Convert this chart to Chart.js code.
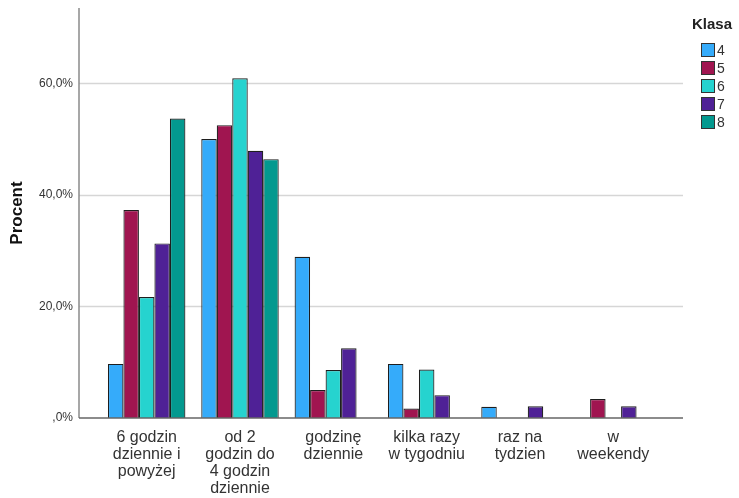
<!DOCTYPE html>
<html>
<head>
<meta charset="utf-8">
<script src="https://cdn.jsdelivr.net/npm/chart.js@4/dist/chart.umd.min.js"></script>
<style>
  body { margin: 0; background: #fff; font-family: "Liberation Sans", Arial, sans-serif; }
  #wrap { position: relative; width: 739px; height: 498px; }
  #legend { position: absolute; left: 692px; top: 15px; color: #222; }
  #legend .title { font-weight: bold; font-size: 15px; margin-bottom: 9px; }
  #legend .item { display: flex; align-items: center; height: 18px; font-size: 14px; color: #333; padding-left: 9px; }
  #legend .box { width: 14px; height: 14px; border: 1px solid #333; box-sizing: border-box; margin-right: 2px; }
</style>
</head>
<body>
<div id="wrap">
  <canvas id="chart" width="739" height="498"></canvas>
  <div id="legend"></div>
</div>
<script>
// categories (multi-line labels) and percentages per class
const categories = [
  ['6 godzin', 'dziennie i', 'powyżej'],
  ['od 2', 'godzin do', '4 godzin', 'dziennie'],
  ['godzinę', 'dziennie'],
  ['kilka razy', 'w tygodniu'],
  ['raz na', 'tydzien'],
  ['w', 'weekendy']
];
const classNames = ['4', '5', '6', '7', '8'];
const klasa4 = [9.7, 50.0, 28.9, 9.7, 2.0, 0];
const klasa5 = [37.3, 52.5, 5.0, 1.7, 0, 3.4];
const klasa6 = [21.7, 60.9, 8.6, 8.7, 0, 0];
const klasa7 = [31.3, 47.9, 12.5, 4.1, 2.1, 2.1];
const klasa8 = [53.7, 46.4, 0, 0, 0, 0];
const yTicks = [0, 20, 40, 60];

const colors = ['#35abfa', '#a01550', '#26d3cf', '#4f2196', '#03998f'];
const series = [klasa4, klasa5, klasa6, klasa7, klasa8];

// axis lines and grid run a bit past the bars on both sides
const AXIS_LEFT = 79;
const AXIS_RIGHT = 683;

const frame = {
  id: 'frame',
  beforeDatasetsDraw(chart) {
    const ctx = chart.ctx;
    const y = chart.scales.y;
    ctx.save();
    ctx.strokeStyle = '#d6d6d6';
    ctx.lineWidth = 1.5;
    yTicks.forEach(v => {
      if (v === 0) return;
      const py = Math.round(y.getPixelForValue(v)) + 0.5;
      ctx.beginPath();
      ctx.moveTo(AXIS_LEFT, py);
      ctx.lineTo(AXIS_RIGHT, py);
      ctx.stroke();
    });
    ctx.strokeStyle = '#8a8a8a';
    ctx.lineWidth = 1.5;
    ctx.beginPath();
    ctx.moveTo(AXIS_LEFT, y.top);
    ctx.lineTo(AXIS_LEFT, y.bottom);
    ctx.stroke();
    ctx.restore();
  },
  afterDatasetsDraw(chart) {
    const ctx = chart.ctx;
    const py = chart.scales.y.getPixelForValue(0);
    ctx.save();
    ctx.strokeStyle = '#666';
    ctx.lineWidth = 1.5;
    ctx.beginPath();
    ctx.moveTo(AXIS_LEFT, py);
    ctx.lineTo(AXIS_RIGHT, py);
    ctx.stroke();
    ctx.restore();
  }
};

const ctx = document.getElementById('chart').getContext('2d');
const chart = new Chart(ctx, {
  type: 'bar',
  data: {
    labels: categories,
    datasets: series.map((data, i) => ({
      label: classNames[i],
      data: data,
      backgroundColor: colors[i],
      borderColor: '#1e1e1e',
      borderWidth: 1.2,
      borderSkipped: 'bottom',
      categoryPercentage: 0.83,
      barPercentage: 1.0
    }))
  },
  options: {
    responsive: false,
    devicePixelRatio: 1,
    animation: false,
    layout: { padding: { top: 8, right: 79, bottom: 0, left: 0 } },
    plugins: {
      legend: { display: false },
      tooltip: { enabled: false }
    },
    scales: {
      x: {
        grid: { display: false, drawTicks: false },
        border: { display: false },
        ticks: {
          color: '#333',
          font: { family: 'Liberation Sans', size: 16, lineHeight: 1.06 },
          maxRotation: 0,
          autoSkip: false,
          padding: 11
        },
        afterFit(scale) { scale.height = 80; }
      },
      y: {
        min: 0,
        max: 73.5,
        grid: { display: false, drawTicks: false },
        border: { display: false },
        afterBuildTicks(scale) {
          scale.ticks = yTicks.map(v => ({ value: v }));
        },
        ticks: {
          color: '#333',
          font: { family: 'Liberation Sans', size: 12 },
          padding: 27,
          callback: v => v === 0 ? ',0%' : v.toFixed(1).replace('.', ',') + '%'
        },
        title: {
          display: true,
          text: 'Procent',
          color: '#111',
          font: { family: 'Liberation Sans', size: 17, weight: 'bold' },
          padding: { top: 7, bottom: 0 }
        },
        afterFit(scale) {
          scale.width = 100;
          scale.paddingTop = 0;
          scale.paddingBottom = 0;
        }
      }
    }
  },
  plugins: [frame]
});

// legend built from the datasets
const legend = document.getElementById('legend');
legend.innerHTML = '<div class="title">Klasa</div>' +
  chart.data.datasets.map(ds =>
    `<div class="item"><span class="box" style="background:${ds.backgroundColor}"></span>${ds.label}</div>`
  ).join('');
</script>
</body>
</html>
